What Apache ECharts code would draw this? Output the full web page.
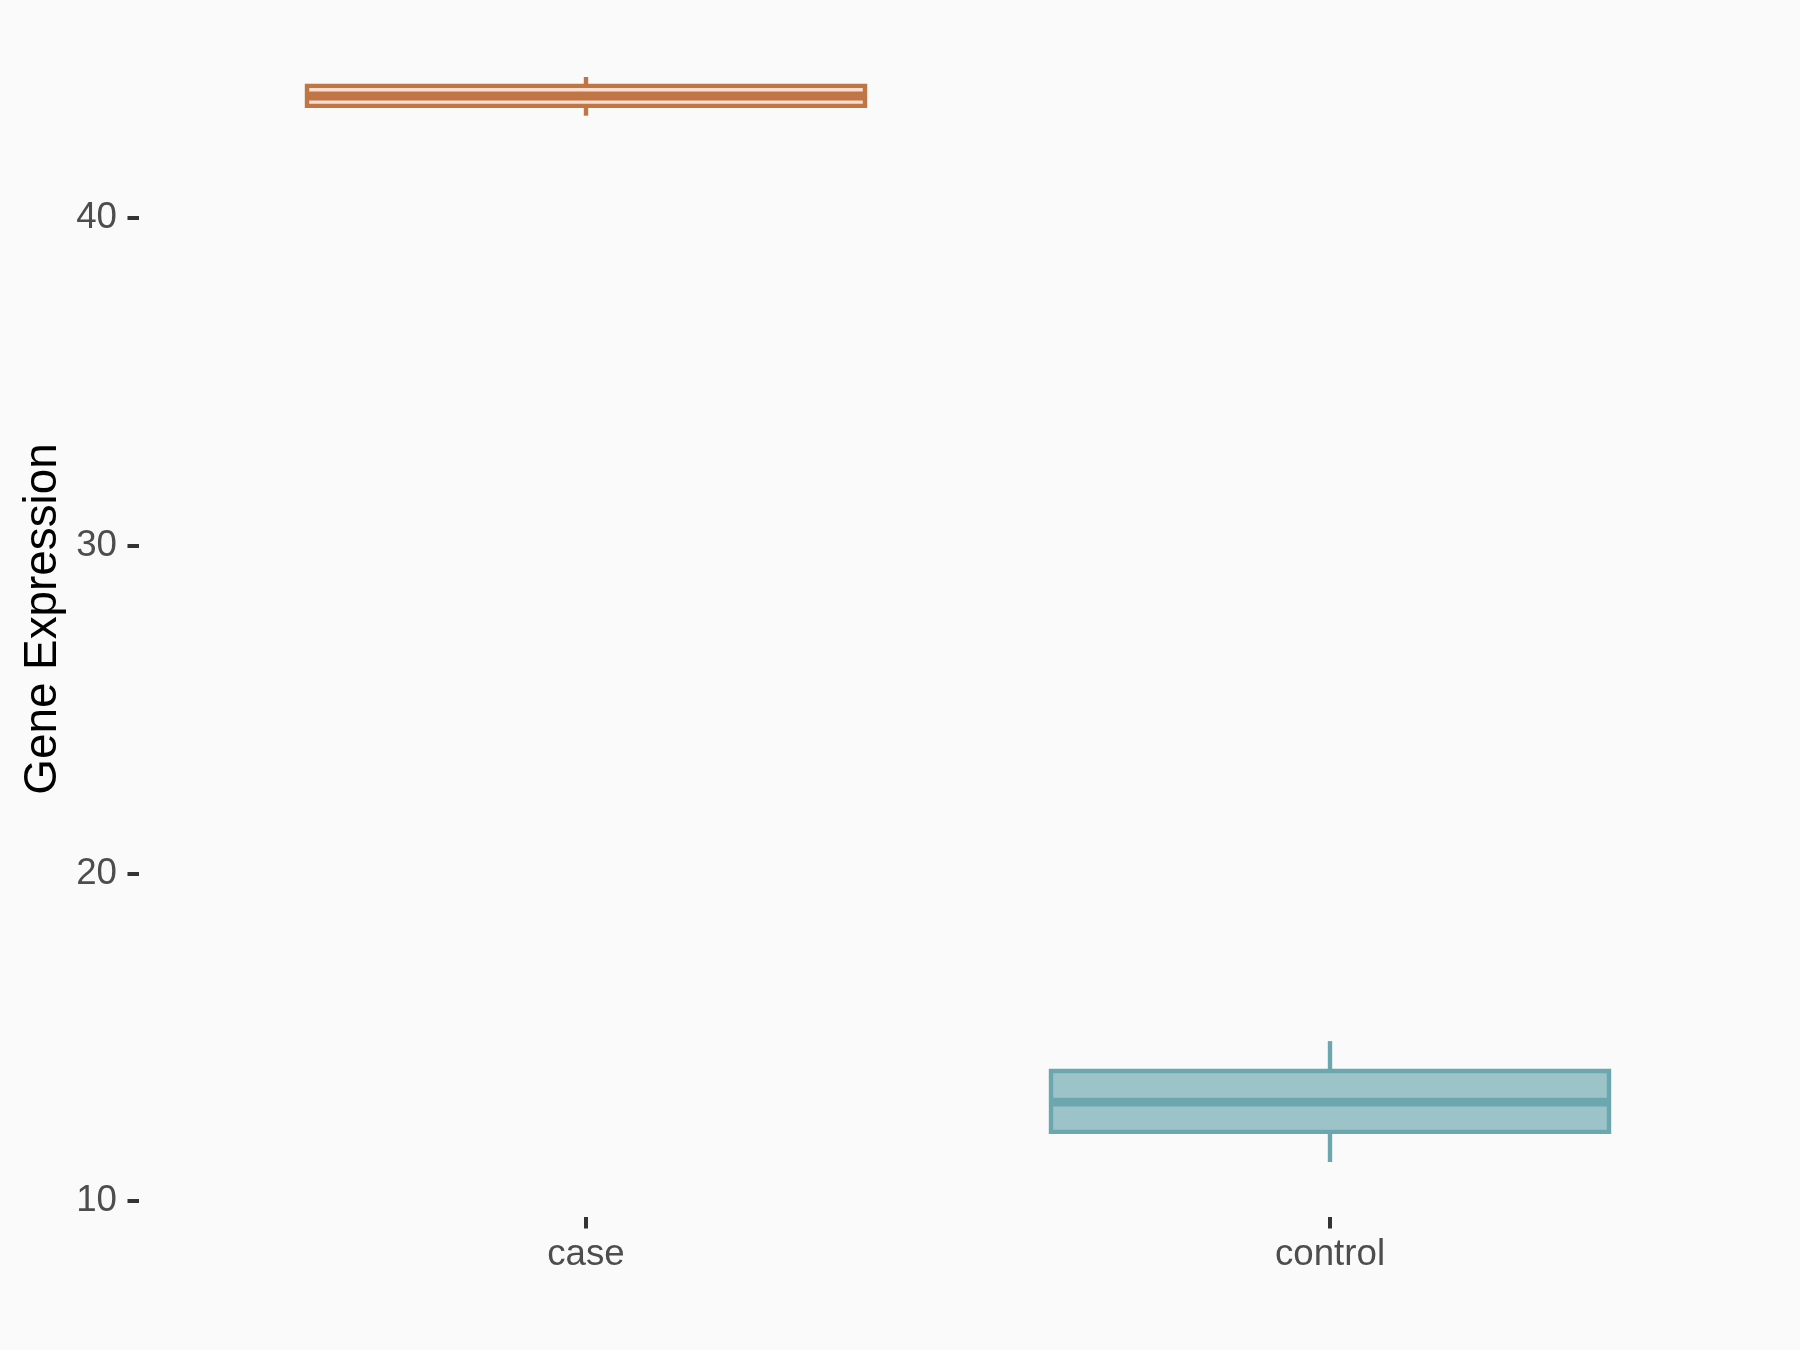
<!DOCTYPE html>
<html>
<head>
<meta charset="utf-8">
<style>
  html, body { margin: 0; padding: 0; background: #FAFAFA; }
  #chart { width: 1800px; height: 1350px; }
</style>
<script src="https://cdn.jsdelivr.net/npm/echarts@6/dist/echarts.min.js"></script>
</head>
<body>
<div id="chart"></div>
<script>
// ---- data ----
const categories = ['case', 'control'];
// [min, Q1, median, Q3, max]
const caseStats = [43.13, 43.43, 43.73, 44.04, 44.31];
const controlStats = [11.19, 12.11, 13.02, 13.97, 14.88];
const yTicks = [10, 20, 30, 40];
const yTitle = 'Gene Expression';

// ---- styles ----
const STYLES = [
  { stroke: '#C07544', fill: '#FDDED0' },
  { stroke: '#6CA6AE', fill: '#9CC4C8' }
];
const BOX_FRAC = 0.75;
const FONT = "'Liberation Sans', Arial, sans-serif";

const seriesData = [
  [0].concat(caseStats),
  [1].concat(controlStats)
];

function renderItem(params, api) {
  const cat = api.value(0);
  const lo = api.value(1), q1 = api.value(2), med = api.value(3), q3 = api.value(4), hi = api.value(5);
  const bw = api.size([1, 0])[0] * BOX_FRAC;
  const pLo = api.coord([cat, lo]);
  const pQ1 = api.coord([cat, q1]);
  const pMed = api.coord([cat, med]);
  const pQ3 = api.coord([cat, q3]);
  const pHi = api.coord([cat, hi]);
  const cx = pMed[0];
  const st = STYLES[params.dataIndex];
  return {
    type: 'group',
    children: [
      { type: 'line', shape: { x1: cx, y1: pQ3[1], x2: cx, y2: pHi[1] },
        style: { stroke: st.stroke, lineWidth: 4.4, lineCap: 'butt' } },
      { type: 'line', shape: { x1: cx, y1: pQ1[1], x2: cx, y2: pLo[1] },
        style: { stroke: st.stroke, lineWidth: 4.4, lineCap: 'butt' } },
      { type: 'rect', shape: { x: cx - bw / 2, y: pQ3[1], width: bw, height: pQ1[1] - pQ3[1] },
        style: { fill: st.fill, stroke: st.stroke, lineWidth: 4.4, lineJoin: 'miter' } },
      { type: 'line', shape: { x1: cx - bw / 2, y1: pMed[1], x2: cx + bw / 2, y2: pMed[1] },
        style: { stroke: st.stroke, lineWidth: 8.8, lineCap: 'butt' } }
    ]
  };
}

const chart = echarts.init(document.getElementById('chart'), null, { renderer: 'canvas' });
chart.setOption({
  backgroundColor: '#FAFAFA',
  animation: false,
  grid: { left: 214, right: 98, top: 54.4, bottom: 149, containLabel: false },
  xAxis: {
    type: 'category',
    data: categories,
    offset: 16,
    axisLine: { show: false },
    axisTick: { show: true, alignWithLabel: true, length: 11.5, lineStyle: { color: '#333333', width: 4 } },
    axisLabel: { fontSize: 36.7, color: '#4D4D4D', fontFamily: FONT, margin: 19 },
    splitLine: { show: false }
  },
  yAxis: {
    type: 'value',
    min: 10,
    max: 45,
    offset: 75,
    axisLine: { show: false },
    axisTick: { show: true, length: 11.5, customValues: yTicks, lineStyle: { color: '#333333', width: 4 } },
    axisLabel: { fontSize: 36.7, color: '#4D4D4D', fontFamily: FONT, margin: 22, customValues: yTicks },
    splitLine: { show: false }
  },
  graphic: [{
    type: 'text',
    x: 43,
    y: 619,
    rotation: Math.PI / 2,
    style: {
      text: yTitle,
      fontSize: 45.8,
      fontFamily: FONT,
      fill: '#000000',
      align: 'center',
      verticalAlign: 'middle'
    }
  }],
  series: [{
    type: 'custom',
    renderItem: renderItem,
    encode: { x: 0, y: [1, 2, 3, 4, 5] },
    data: seriesData
  }]
});
</script>
</body>
</html>
